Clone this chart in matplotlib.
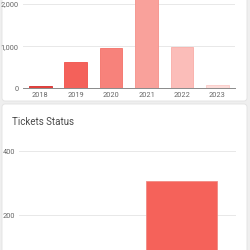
import matplotlib.pyplot as plt
from matplotlib.patches import FancyBboxPatch

plt.rcParams['font.family'] = ['Roboto', 'DejaVu Sans']

# data
years = ['2018', '2019', '2020', '2021', '2022', '2023']
tickets_per_year = [45, 625, 955, 2300, 970, 90]
year_colors = ['#e8403a', '#f4615a', '#f7827b', '#f9a19b', '#fbbdb9', '#fddcd9']
year_edges = ['#d32f2f', '#f05149', '#f47168', '#f6908a', '#f9aca7', '#fbcbc8']

status_labels = ['Open', 'Closed']
status_counts = [0, 307]

W = H = 250.0


def fx(px):
    return px / W


def fy(py):
    return 1 - py / H


fig = plt.figure(figsize=(2.5, 2.5), dpi=100)
fig.patch.set_facecolor('#efefef')

# cards
for top, bottom in [(-20, 101), (104, 270)]:
    card = FancyBboxPatch((fx(2), fy(bottom)), fx(245), (bottom - top) / H,
                          boxstyle='round,pad=0,rounding_size=0.012',
                          transform=fig.transFigure, facecolor='white',
                          edgecolor='#e2e2e2', linewidth=0.6, zorder=0)
    fig.patches.append(card)

# top chart: tickets per year
ax1 = fig.add_axes([fx(22.7), fy(88.3), fx(235 - 22.7), 105.3 / H])
ax1.set_zorder(2)
ax1.bar(years, tickets_per_year, width=0.64, color=year_colors,
        edgecolor=year_edges, linewidth=0.6, zorder=3)
ax1.set_ylim(0, 2500)
ax1.set_xlim(-0.5, 5.5)
ax1.set_yticks([0, 1000, 2000])
ax1.set_yticklabels(['0', '1,000', '2,000'])
ax1.grid(axis='y', color='#e8e8e8', linewidth=0.7, zorder=0)
for s in ['top', 'right', 'left']:
    ax1.spines[s].set_visible(False)
ax1.spines['bottom'].set_color('#8a8a8a')
ax1.spines['bottom'].set_linewidth(0.7)
ax1.tick_params(axis='both', length=0, labelsize=5.3, labelcolor='#666666', pad=2.5)
ax1.tick_params(axis='y', pad=3)
ax1.set_facecolor('none')

# bottom chart: ticket status
fig.text(fx(12), fy(122), 'Tickets Status', fontsize=7, color='#4a4a4a',
         ha='left', va='center', zorder=3)
ax2 = fig.add_axes([fx(19), fy(279), fx(236 - 19), 144 / H])
ax2.set_zorder(2)
ax2.bar(status_labels, status_counts, width=0.65, color='#f5625a',
        edgecolor='#f18a84', linewidth=0.6, zorder=3)
ax2.set_ylim(0, 450)
ax2.set_xlim(-0.5, 1.5)
ax2.set_yticks([200, 400])
ax2.grid(axis='y', color='#e8e8e8', linewidth=0.7, zorder=0)
for s in ['top', 'right', 'left', 'bottom']:
    ax2.spines[s].set_visible(False)
ax2.tick_params(axis='both', length=0, labelsize=5.3, labelcolor='#666666', pad=3)
ax2.tick_params(axis='x', labelbottom=False)
ax2.set_facecolor('none')

fig.savefig('out.png', dpi=100, facecolor=fig.get_facecolor())
